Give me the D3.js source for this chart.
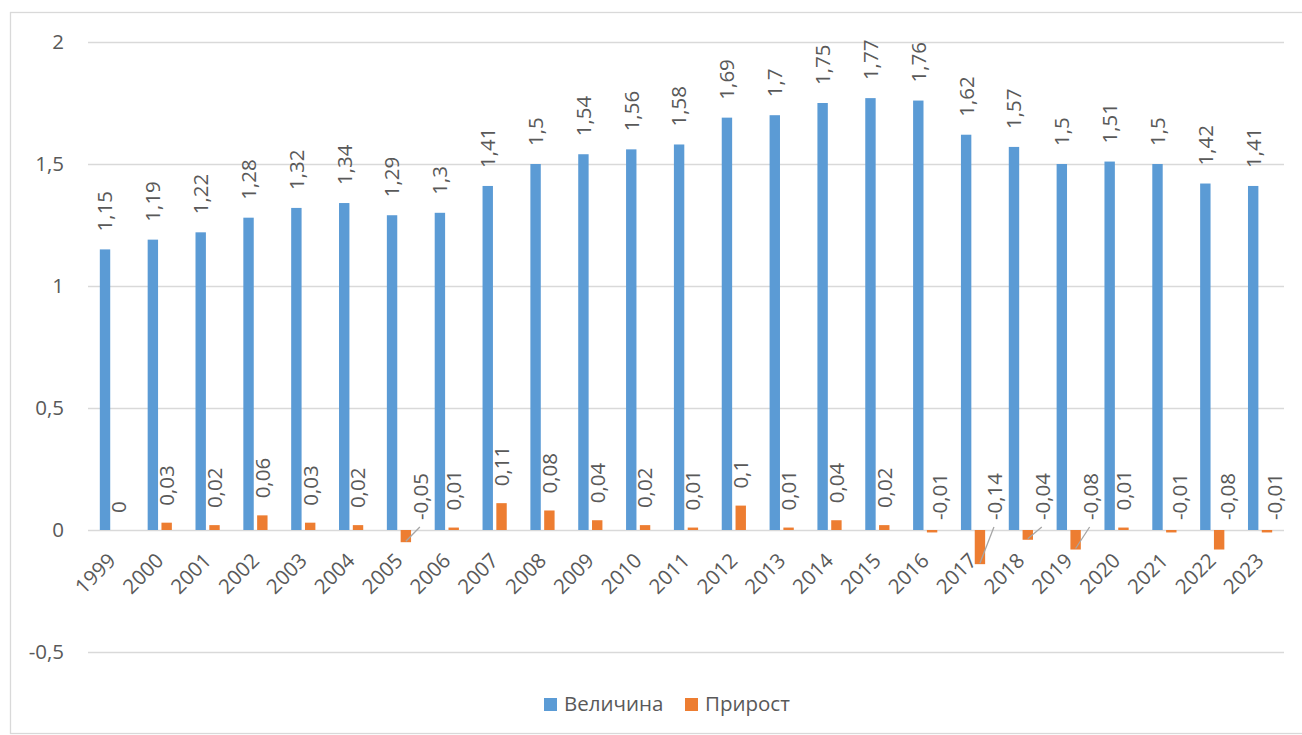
<!DOCTYPE html>
<html>
<head>
<meta charset="utf-8">
<script src="https://cdn.jsdelivr.net/npm/d3@7"></script>
<style>
  html, body { margin: 0; padding: 0; background: #fff; }
  svg { display: block; font-family: "Open Sans", sans-serif; }
</style>
</head>
<body>
<svg id="chart" width="1302" height="735"></svg>
<script>
const years = ["1999","2000","2001","2002","2003","2004","2005","2006","2007","2008","2009","2010","2011","2012","2013","2014","2015","2016","2017","2018","2019","2020","2021","2022","2023"];
const seriesNames = ["Величина", "Прирост"];
const valueSeries = [1.15,1.19,1.22,1.28,1.32,1.34,1.29,1.3,1.41,1.5,1.54,1.56,1.58,1.69,1.7,1.75,1.77,1.76,1.62,1.57,1.5,1.51,1.5,1.42,1.41];
const growthSeries = [0,0.03,0.02,0.06,0.03,0.02,-0.05,0.01,0.11,0.08,0.04,0.02,0.01,0.1,0.01,0.04,0.02,-0.01,-0.14,-0.04,-0.08,0.01,-0.01,-0.08,-0.01];
const yTicks = [-0.5, 0, 0.5, 1, 1.5, 2];
const leaderYears = ["2005","2017","2018","2019"];

const colors = ["#5B9BD5", "#ED7D31"];
const textColor = "#595959";
const gridColor = "#D9D9D9";
const fs = "20.5px";
const fmt = v => String(v).replace(".", ",");

const svg = d3.select("#chart");

// outer chart border
svg.append("rect").attr("x", 10.5).attr("y", 12.5).attr("width", 1300).attr("height", 721)
  .attr("fill", "none").attr("stroke", gridColor).attr("stroke-width", 1.3);

const x = d3.scaleBand().domain(years).range([88, 1284]).padding(0);
const y = d3.scaleLinear().domain([-0.5, 2]).range([652, 42]);
const bw = x.bandwidth();
const barW = bw * 0.2174;
const gap = bw * 0.071;

// gridlines
svg.append("g").selectAll("line").data(yTicks).join("line")
  .attr("x1", 88).attr("x2", 1284)
  .attr("y1", d => Math.round(y(d)) + 0.5).attr("y2", d => Math.round(y(d)) + 0.5)
  .attr("stroke", gridColor).attr("stroke-width", 1.3);

// y axis labels
const yAxis = d3.axisLeft(y).tickValues(yTicks).tickFormat(fmt).tickSize(0).tickPadding(0);
const gy = svg.append("g").attr("transform", "translate(64,0)").call(yAxis);
gy.select(".domain").remove();
gy.selectAll("text").attr("fill", textColor).style("font-size", fs).style("font-family", "'Open Sans', sans-serif");

// x axis labels
const xAxis = d3.axisBottom(x).tickSize(0).tickPadding(0);
const gx = svg.append("g").attr("transform", `translate(0,${y(0)})`).call(xAxis);
gx.select(".domain").remove();
gx.selectAll("text")
  .attr("fill", textColor).style("font-size", fs).style("font-family", "'Open Sans', sans-serif")
  .attr("text-anchor", "end").attr("dy", null).attr("y", 0)
  .attr("transform", "translate(5,32) rotate(-45)");

const cx = d => x(d) + bw / 2;

// blue bars
svg.append("g").selectAll("rect").data(years).join("rect")
  .attr("x", (d) => cx(d) - gap / 2 - barW)
  .attr("width", barW)
  .attr("y", (d, i) => y(Math.max(0, valueSeries[i])))
  .attr("height", (d, i) => Math.abs(y(valueSeries[i]) - y(0)))
  .attr("fill", colors[0]);

// orange bars
svg.append("g").selectAll("rect").data(years).join("rect")
  .attr("x", (d) => cx(d) + gap / 2)
  .attr("width", barW)
  .attr("y", (d, i) => y(Math.max(0, growthSeries[i])))
  .attr("height", (d, i) => Math.abs(y(growthSeries[i]) - y(0)))
  .attr("fill", colors[1]);

// blue labels
svg.append("g").selectAll("text").data(years).join("text")
  .attr("transform", (d, i) => `translate(${cx(d) - gap / 2 - barW / 2},${y(valueSeries[i]) - 18}) rotate(-90)`)
  .attr("dy", "0.36em")
  .attr("fill", textColor).style("font-size", fs)
  .text((d, i) => fmt(valueSeries[i]));

// orange labels
const ox = d => cx(d) + gap / 2 + barW / 2;
svg.append("g").selectAll("text").data(years).join("text")
  .attr("transform", (d, i) => {
    const v = growthSeries[i];
    if (v >= 0) return `translate(${ox(d)},${y(v) - 17}) rotate(-90)`;
    const off = leaderYears.includes(d) ? 15 : 8;
    return `translate(${ox(d) + off},${y(0) - 10}) rotate(-90)`;
  })
  .attr("dy", "0.36em")
  .attr("fill", textColor).style("font-size", fs)
  .text((d, i) => fmt(growthSeries[i]));

// leader lines
svg.append("g").selectAll("line").data(years.filter(d => leaderYears.includes(d))).join("line")
  .attr("x1", d => ox(d))
  .attr("y1", d => y(growthSeries[years.indexOf(d)]) - 1)
  .attr("x2", d => ox(d) + 14)
  .attr("y2", y(0) - 3)
  .attr("stroke", "#A6A6A6").attr("stroke-width", 1.3);

// legend
const legend = svg.append("g");
const legendItems = [{x: 544, name: seriesNames[0], c: colors[0]}, {x: 685, name: seriesNames[1], c: colors[1]}];
legendItems.forEach(it => {
  legend.append("rect").attr("x", it.x).attr("y", 698).attr("width", 13).attr("height", 13).attr("fill", it.c);
  legend.append("text").attr("x", it.x + 20).attr("y", 711).attr("fill", textColor)
    .style("font-size", fs).text(it.name);
});
</script>
</body>
</html>
